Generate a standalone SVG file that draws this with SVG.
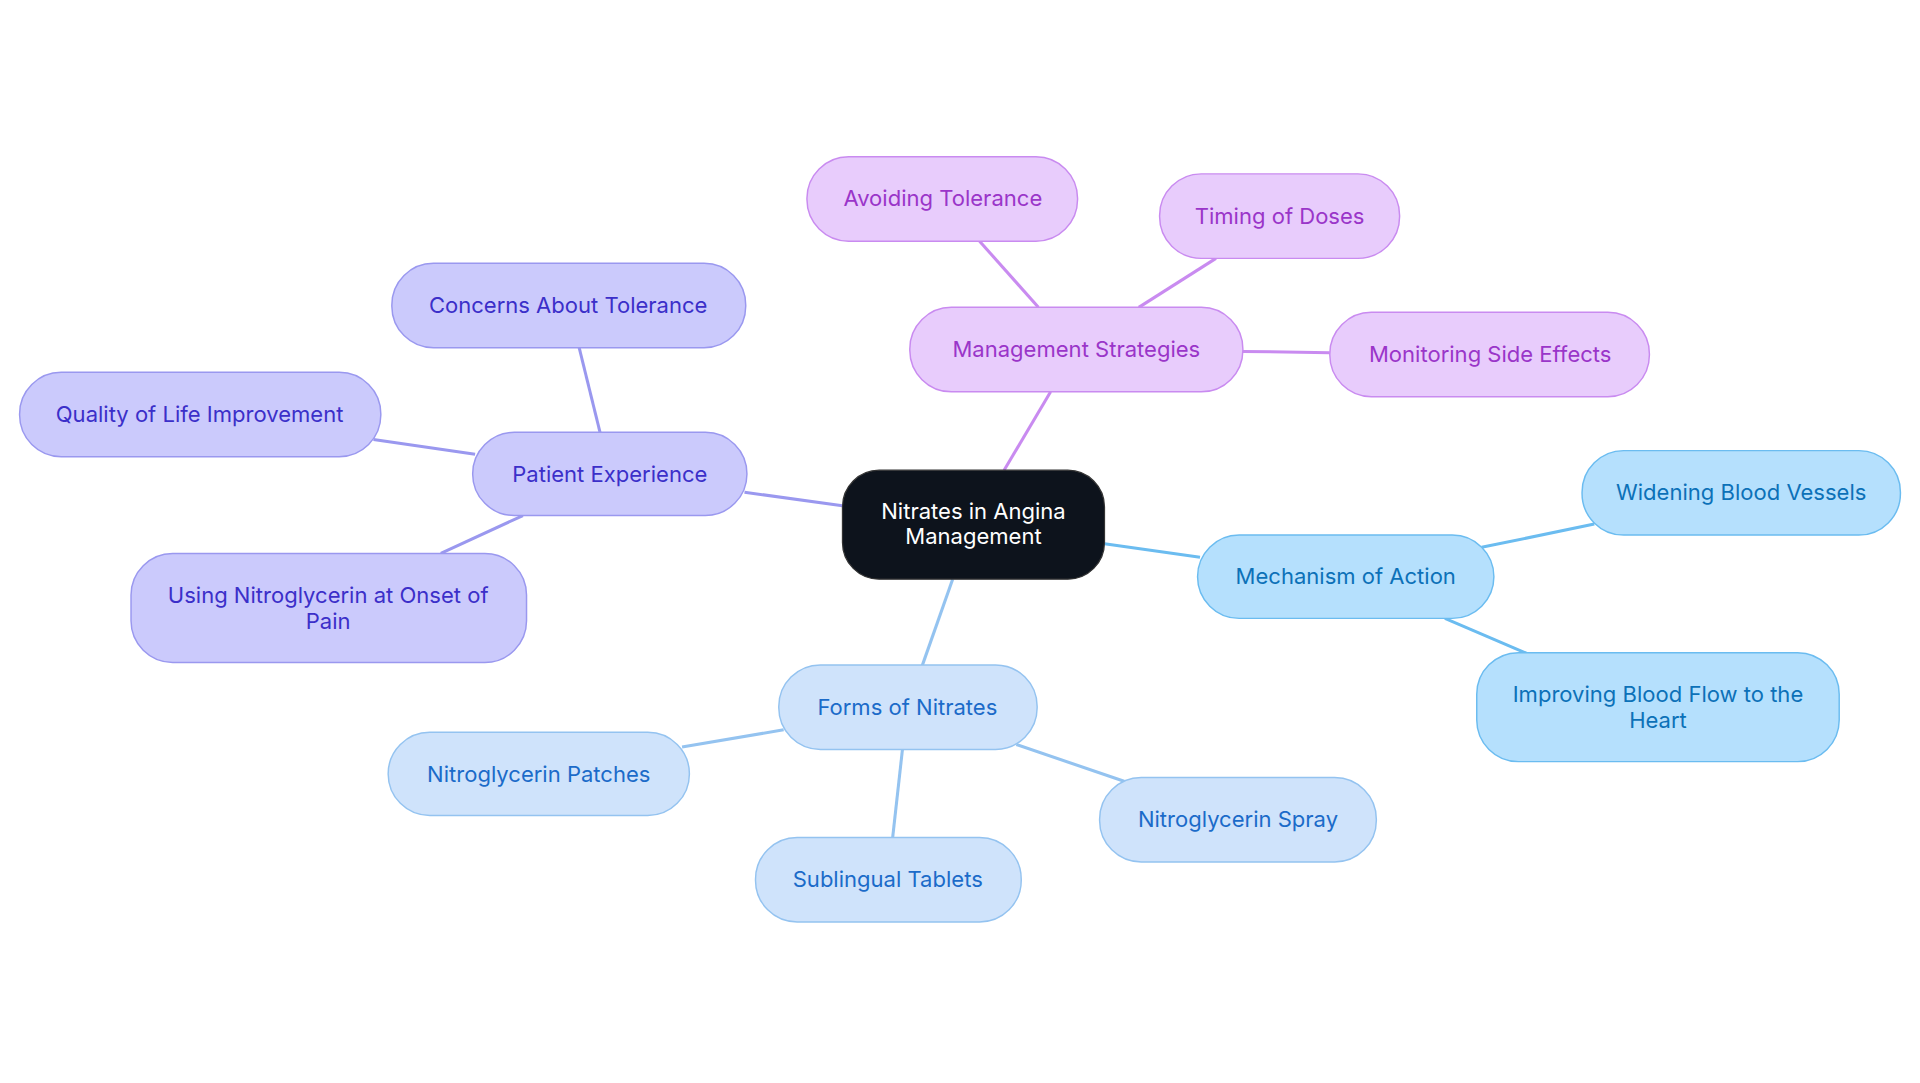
<svg xmlns="http://www.w3.org/2000/svg" width="1920" height="1083" viewBox="0 0 1920 1083">
<style>
text{font-family:Inter,"Noto Sans",sans-serif;font-size:18px;text-anchor:middle;dominant-baseline:central}
.c line{stroke-width:2.5;fill:none}
.m rect{fill:#e8ccfc;stroke:#c98bf0;stroke-width:1.2}.m text{fill:#9a35c9}
.p rect{fill:#cbcafc;stroke:#9a98ef;stroke-width:1.2}.p text{fill:#3b2fc9}
.a rect{fill:#b5e0fd;stroke:#6bbcf0;stroke-width:1.2}.a text{fill:#0c71b8}
.f rect{fill:#cfe3fb;stroke:#94c3f0;stroke-width:1.2}.f text{fill:#1b6bc9}
</style>
<rect width="1920" height="1083" fill="#fff"/>
<g transform="scale(1.2245)">
<g id="connectors" class="c">
<g stroke="#c98bf0"><line x1="820" y1="384" x2="858" y2="320"/><line x1="848" y1="251" x2="800" y2="197"/><line x1="930" y1="251" x2="993" y2="211"/><line x1="1015" y1="287" x2="1086" y2="288"/></g>
<g stroke="#9a98ef"><line x1="688" y1="413" x2="608" y2="402"/><line x1="490" y1="353" x2="473" y2="284"/><line x1="388" y1="371" x2="305" y2="359"/><line x1="427" y1="421" x2="360" y2="452"/></g>
<g stroke="#6bbcf0"><line x1="902" y1="444" x2="980" y2="455"/><line x1="1210" y1="447" x2="1302" y2="428"/><line x1="1180" y1="505" x2="1250" y2="535"/></g>
<g stroke="#94c3f0"><line x1="778" y1="473" x2="753" y2="544"/><line x1="640" y1="596" x2="557" y2="610"/><line x1="737" y1="612" x2="729" y2="684"/><line x1="830" y1="608" x2="918" y2="638"/></g>
</g>
<g id="center"><rect x="688" y="384" width="214" height="89" rx="30" fill="#0d131c" stroke="#333" stroke-width="1"/><text x="795" y="417" fill="#fff">Nitrates in Angina</text><text x="795" y="438" fill="#fff">Management</text></g>
<g id="ms" class="m"><rect x="743" y="251" width="272" height="69" rx="34"/><text x="879" y="285">Management Strategies</text></g>
<g id="at" class="m"><rect x="659" y="128" width="221" height="69" rx="34"/><text x="770" y="162">Avoiding Tolerance</text></g>
<g id="td" class="m"><rect x="947" y="142" width="196" height="69" rx="34"/><text x="1045" y="176">Timing of Doses</text></g>
<g id="mse" class="m"><rect x="1086" y="255" width="261" height="69" rx="34"/><text x="1217" y="289">Monitoring Side Effects</text></g>
<g id="pe" class="p"><rect x="386" y="353" width="224" height="68" rx="34"/><text x="498" y="387">Patient Experience</text></g>
<g id="cat" class="p"><rect x="320" y="215" width="289" height="69" rx="34"/><text x="464" y="249">Concerns About Tolerance</text></g>
<g id="qol" class="p"><rect x="16" y="304" width="295" height="69" rx="34"/><text x="163" y="338">Quality of Life Improvement</text></g>
<g id="ung" class="p"><rect x="107" y="452" width="323" height="89" rx="34"/><text x="268" y="486">Using Nitroglycerin at Onset of</text><text x="268" y="507">Pain</text></g>
<g id="moa" class="a"><rect x="978" y="437" width="242" height="68" rx="34"/><text x="1099" y="470">Mechanism of Action</text></g>
<g id="wbv" class="a"><rect x="1292" y="368" width="260" height="69" rx="34"/><text x="1422" y="402">Widening Blood Vessels</text></g>
<g id="ibf" class="a"><rect x="1206" y="533" width="296" height="89" rx="34"/><text x="1354" y="567">Improving Blood Flow to the</text><text x="1354" y="588">Heart</text></g>
<g id="fn" class="f"><rect x="636" y="543" width="211" height="69" rx="34"/><text x="741" y="577">Forms of Nitrates</text></g>
<g id="np" class="f"><rect x="317" y="598" width="246" height="68" rx="34"/><text x="440" y="632">Nitroglycerin Patches</text></g>
<g id="st" class="f"><rect x="617" y="684" width="217" height="69" rx="34"/><text x="725" y="718">Sublingual Tablets</text></g>
<g id="ns" class="f"><rect x="898" y="635" width="226" height="69" rx="34"/><text x="1011" y="669">Nitroglycerin Spray</text></g>
</g>
</svg>
